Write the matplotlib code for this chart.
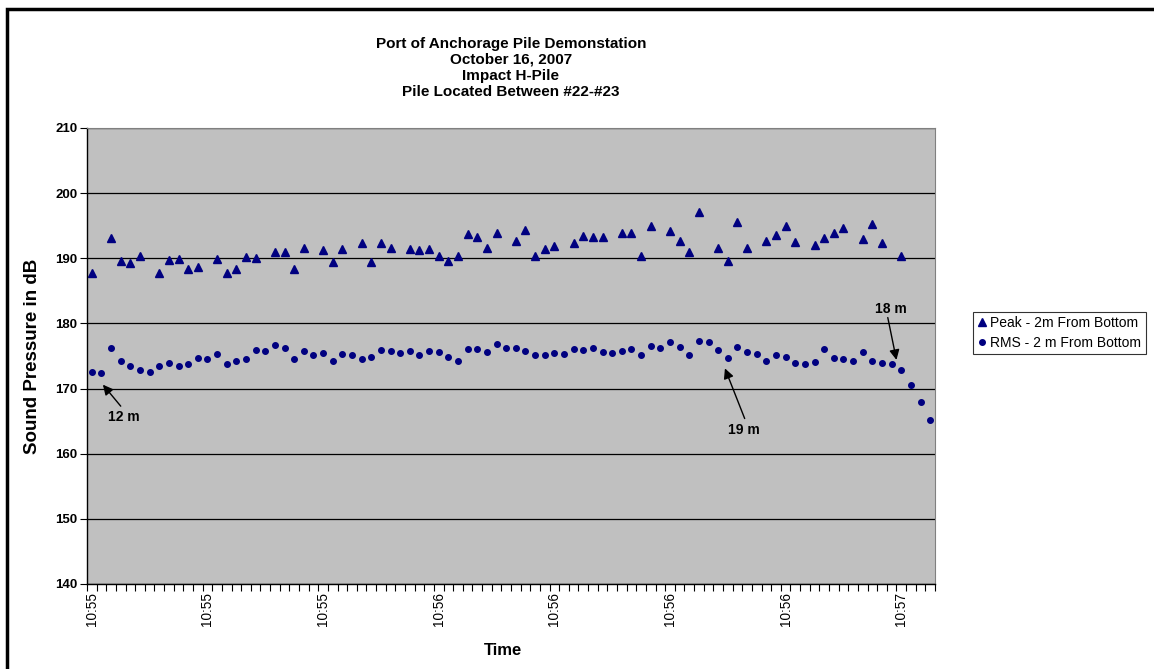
import numpy as np
import matplotlib
matplotlib.use('Agg')
import matplotlib.pyplot as plt
from matplotlib.patches import Rectangle

plt.rcParams['font.family'] = ['Liberation Sans', 'DejaVu Sans']

TITLE_LINES = ['Port of Anchorage Pile Demonstation', 'October 16, 2007',
               'Impact H-Pile', 'Pile Located Between #22-#23']
NAVY = '#000080'

# peak level (dB), one value per hammer strike; nan where no peak was plotted
peak = [187.7, np.nan, 193.1, 189.6, 189.2, 190.3, np.nan, 187.7, 189.7, 189.9,
        188.4, 188.6, np.nan, 189.9, 187.7, 188.4, 190.2, 190.0, np.nan, 190.9,
        190.9, 188.4, 191.6, np.nan, 191.2, 189.4, 191.4, np.nan, 192.4, 189.4,
        192.3, 191.6, np.nan, 191.4, 191.2, 191.5, 190.4, 189.6, 190.4, 193.8,
        193.2, 191.6, 193.9, np.nan, 192.7, 194.3, 190.3, 191.4, 191.9, np.nan,
        192.4, 193.4, 193.2, 193.3, np.nan, 193.9, 193.9, 190.3, 194.9, np.nan,
        194.2, 192.6, 191.0, 197.1, np.nan, 191.6, 189.6, 195.6, 191.6, np.nan,
        192.7, 193.6, 194.9, 192.5, np.nan, 192.0, 193.1, 193.9, 194.7, np.nan,
        193.0, 195.3, 192.3, np.nan, 190.3, np.nan, np.nan, np.nan]

rms = [172.5, 172.4, 176.2, 174.2, 173.4, 172.9, 172.6, 173.4, 174.0, 173.4,
       173.8, 174.7, 174.5, 175.3, 173.8, 174.3, 174.5, 175.9, 175.7, 176.7,
       176.2, 174.6, 175.7, 175.2, 175.4, 174.2, 175.3, 175.2, 174.6, 174.8,
       175.9, 175.8, 175.4, 175.8, 175.2, 175.7, 175.6, 174.8, 174.3, 176.0,
       176.1, 175.6, 176.8, 176.2, 176.2, 175.7, 175.1, 175.2, 175.4, 175.3,
       176.0, 175.9, 176.3, 175.6, 175.4, 175.7, 176.0, 175.1, 176.6, 176.2,
       177.2, 176.4, 175.1, 177.3, 177.2, 175.9, 174.7, 176.4, 175.6, 175.3,
       174.2, 175.1, 174.8, 174.0, 173.7, 174.1, 176.1, 174.7, 174.6, 174.3,
       175.6, 174.2, 173.9, 173.7, 172.9, 170.5, 167.9, 165.1]

time_labels = ['10:55', '10:55', '10:55', '10:56', '10:56', '10:56', '10:56', '10:57']
LABEL_EVERY = 12

# (text, text position, arrow tail, arrow tip) in data units
notes = [
    ('12 m', (3.35, 165.6), (3.0, 167.3), (1.15, 170.6)),
    ('19 m', (67.7, 163.6), (67.75, 165.4), (65.7, 173.1)),
    ('18 m', (82.9, 182.2), (82.6, 180.9), (83.5, 174.4)),
]

if __name__ == '__main__':
    fig = plt.figure(figsize=(11.54, 6.69), dpi=100)
    ax = fig.add_axes([87 / 1154, 1 - 584 / 669, 848 / 1154, 456 / 669])
    ax.set_facecolor('#c0c0c0')

    x = np.arange(len(rms))
    ax.plot(x, peak, linestyle='none', marker='^', markersize=6.4,
            color=NAVY, label='Peak - 2m From Bottom')
    ax.plot(x, rms, linestyle='none', marker='o', markersize=4,
            color=NAVY, label='RMS - 2 m From Bottom')

    ax.set_xlim(-0.5, len(rms) - 0.5)
    ax.set_ylim(140, 210)
    ax.set_yticks(range(140, 211, 10))
    ax.yaxis.grid(True, color='black', linewidth=0.9)
    ax.set_axisbelow(True)

    ax.set_xticks(np.arange(0, len(rms), LABEL_EVERY))
    ax.set_xticklabels(time_labels, rotation=90, fontsize=9.8)
    ax.set_xticks(np.arange(-0.5, len(rms)), minor=True)
    ax.tick_params(axis='x', which='major', length=0, pad=5.5)
    ax.tick_params(axis='x', which='minor', length=5, width=0.8)
    ax.tick_params(axis='y', length=5, width=0.8, labelsize=9.5, pad=2)
    for t in ax.get_yticklabels():
        t.set_fontweight('bold')

    for side in ('top', 'right'):
        ax.spines[side].set_color('#808080')
    for side in ('left', 'bottom'):
        ax.spines[side].set_color('black')
        ax.spines[side].set_linewidth(1.0)

    ax.set_ylabel('Sound Pressure in dB', fontsize=13.5, fontweight='bold')
    ax.yaxis.set_label_coords(-0.054, 0.5)
    ax.set_xlabel('Time', fontsize=12, fontweight='bold')
    ax.xaxis.set_label_coords(0.49, -0.129)

    # title lines, 16 px apart
    for k, line in enumerate(TITLE_LINES):
        fig.text(511 / 1154, 1 - (44 + 16 * k) / 669, line, ha='center',
                 va='center', fontsize=11, fontweight='bold')

    for label, txt, tail, tip in notes:
        ax.text(txt[0], txt[1], label, ha='center', va='center',
                fontsize=10, fontweight='bold')
        ax.annotate('', xy=tip, xytext=tail,
                    arrowprops=dict(arrowstyle='-|>', color='black', lw=1,
                                    mutation_scale=15, shrinkA=0, shrinkB=0))

    leg = fig.legend(loc='upper left', bbox_to_anchor=(973 / 1154, 1 - 312 / 669),
                     fontsize=10, frameon=True, fancybox=False, handlelength=0.7,
                     handletextpad=0.25, borderpad=0.3, labelspacing=0.4,
                     borderaxespad=0)
    leg.get_frame().set_edgecolor('black')
    leg.get_frame().set_linewidth(0.8)

    fig.add_artist(Rectangle((7 / 1154, -0.1), 1.2, 1.1 - 9 / 669,
                             transform=fig.transFigure, fill=False,
                             edgecolor='black', linewidth=2.5))

    fig.savefig('out.png', dpi=100, facecolor='white')
    plt.close(fig)
